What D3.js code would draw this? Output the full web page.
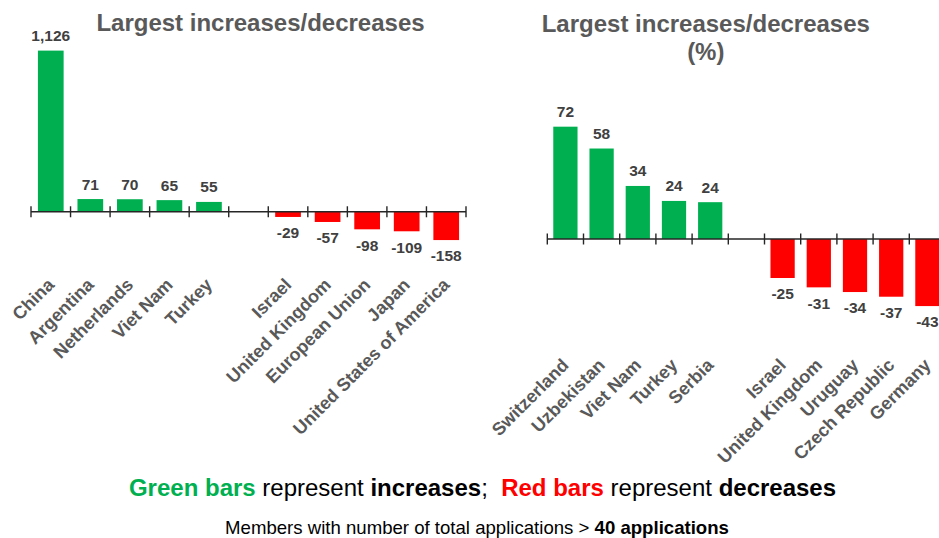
<!DOCTYPE html>
<html>
<head>
<meta charset="utf-8">
<script src="https://cdn.jsdelivr.net/npm/d3@7"></script>
<style>
  html, body { margin: 0; padding: 0; background: #fff; }
  svg { display: block; font-family: "Liberation Sans", Arial, sans-serif; }
</style>
</head>
<body>
<svg id="chart" width="939" height="538"></svg>
<script>
// ---- Data ----
const leftCategories = ["China", "Argentina", "Netherlands", "Viet Nam", "Turkey", "", "Israel", "United Kingdom", "European Union", "Japan", "United States of America"];
const leftValues = [1126, 71, 70, 65, 55, null, -29, -57, -98, -109, -158];
const leftTitle = ["Largest increases/decreases"];

const rightCategories = ["Switzerland", "Uzbekistan", "Viet Nam", "Turkey", "Serbia", "", "Israel", "United Kingdom", "Uruguay", "Czech Republic", "Germany"];
const rightValues = [72, 58, 34, 24.4, 23.6, null, -25, -31, -34, -37, -43];
const rightTitle = ["Largest increases/decreases", "(%)"];

// ---- Styles ----
const GREEN = "#00B050", RED = "#FF0000";
const svg = d3.select("#chart");
const locale = d3.formatLocale({ decimal: ".", thousands: ",", grouping: [3], currency: ["", ""], minus: "-" });

function drawChart(cfg) {
  const { categories, values, title } = cfg;
  const x = d3.scaleBand()
    .domain(d3.range(categories.length))
    .range(cfg.xRange)
    .paddingInner(cfg.padInner)
    .paddingOuter(cfg.padInner / 2);
  const y = d3.scaleLinear().domain(cfg.yDomain).range(cfg.yRange).clamp(true);
  const g = svg.append("g");
  const fmt = cfg.fmt;

  // title
  const t = g.append("text")
    .attr("x", cfg.titleX).attr("y", cfg.titleY)
    .attr("text-anchor", "middle")
    .attr("font-size", 24).attr("font-weight", "bold")
    .attr("fill", "#595959");
  title.forEach((line, i) => {
    t.append("tspan").attr("x", cfg.titleX).attr("dy", i === 0 ? 0 : 28).text(line);
  });

  const data = values.map((v, i) => ({ i, v, name: categories[i] }));
  const bars = data.filter(d => d.v !== null);

  g.selectAll("rect.bar").data(bars).join("rect")
    .attr("class", "bar")
    .attr("x", d => x(d.i))
    .attr("width", x.bandwidth())
    .attr("y", d => Math.min(y(d.v), y(0)))
    .attr("height", d => Math.abs(y(d.v) - y(0)))
    .attr("fill", d => d.v >= 0 ? GREEN : RED);

  // axis line and ticks at band boundaries
  const y0 = y(0);
  const step = x.step();
  const start = cfg.xRange[0];
  g.append("line")
    .attr("x1", start).attr("x2", cfg.xRange[1])
    .attr("y1", y0).attr("y2", y0)
    .attr("stroke", "#262626").attr("stroke-width", 1.4);
  g.selectAll("line.tick").data(d3.range(categories.length + 1)).join("line")
    .attr("class", "tick")
    .attr("x1", i => start + i * step).attr("x2", i => start + i * step)
    .attr("y1", y0 - 5.5).attr("y2", y0 + 5.5)
    .attr("stroke", "#262626").attr("stroke-width", 1.4);

  // value labels
  g.selectAll("text.val").data(bars).join("text")
    .attr("class", "val")
    .attr("x", d => x(d.i) + x.bandwidth() / 2)
    .attr("y", d => d.v >= 0 ? y(d.v) - 9.5 : y(d.v) + 21.3)
    .attr("text-anchor", "middle")
    .attr("font-size", 15.5).attr("font-weight", "bold")
    .attr("fill", "#404040")
    .text(d => fmt(d.v));

  // category labels (low position, rotated -45)
  const ly = cfg.yRange[0] + cfg.labelOffset;
  g.selectAll("text.cat").data(data.filter(d => d.name)).join("text")
    .attr("class", "cat")
    .attr("transform", d => `translate(${x(d.i) + x.bandwidth() / 2 + cfg.labelDx},${ly}) rotate(-45)`)
    .attr("text-anchor", "end")
    .attr("dy", "0.35em")
    .attr("font-size", 18).attr("font-weight", "bold")
    .attr("fill", "#595959")
    .text(d => d.name);
}

drawChart({
  categories: leftCategories, values: leftValues, title: leftTitle,
  xRange: [31, 466], padInner: 0.35,
  yDomain: [-400, 900], yRange: [283.4, 50.6],
  titleX: 260.5, titleY: 30.5,
  labelOffset: -2, labelDx: 0,
  fmt: locale.format(",")
});

drawChart({
  categories: rightCategories, values: rightValues, title: rightTitle,
  xRange: [547.3, 945.5], padInner: 0.33,
  yDomain: [-80, 80], yRange: [363.8, 114.2],
  titleX: 705.8, titleY: 32,
  labelOffset: -2, labelDx: 0,
  fmt: locale.format(".0f")
});

// ---- Footnotes ----
const note1 = svg.append("text")
  .attr("x", 482.5).attr("y", 496)
  .attr("text-anchor", "middle")
  .attr("font-size", 24).attr("fill", "#000");
note1.append("tspan").attr("font-weight", "bold").attr("fill", GREEN).text("Green bars");
note1.append("tspan").text(" represent ");
note1.append("tspan").attr("font-weight", "bold").text("increases");
note1.append("tspan").text(";\u00a0 ");
note1.append("tspan").attr("font-weight", "bold").attr("fill", RED).text("Red bars");
note1.append("tspan").text(" represent ");
note1.append("tspan").attr("font-weight", "bold").text("decreases");

const note2 = svg.append("text")
  .attr("x", 477).attr("y", 534)
  .attr("text-anchor", "middle")
  .attr("font-size", 18.6).attr("fill", "#000");
note2.append("tspan").text("Members with number of total applications > ");
note2.append("tspan").attr("font-weight", "bold").text("40 applications");
</script>
</body>
</html>
